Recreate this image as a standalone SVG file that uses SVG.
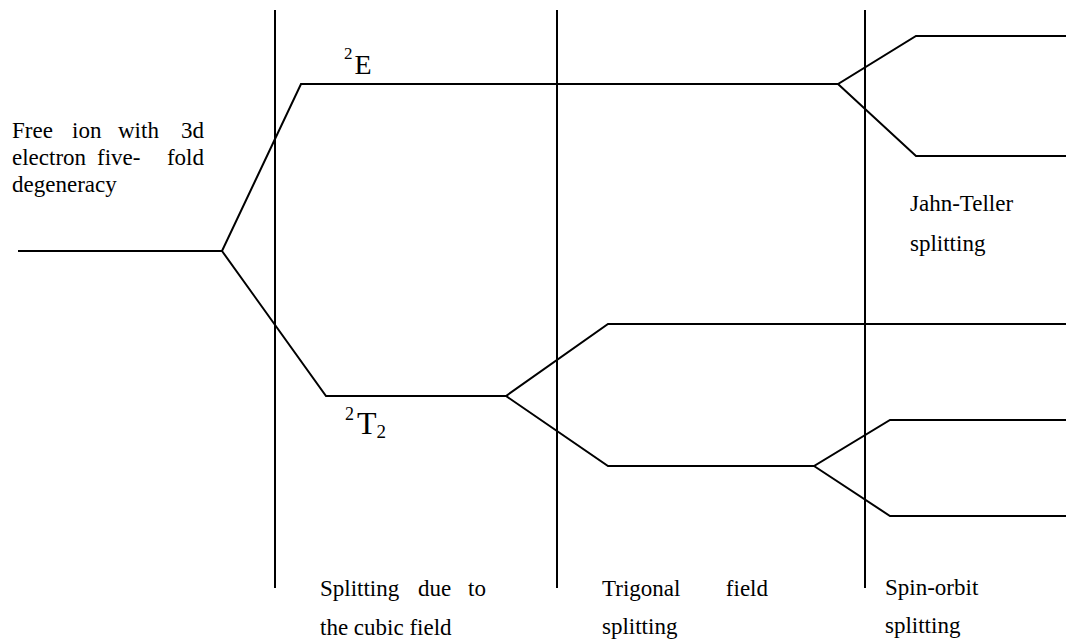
<svg xmlns="http://www.w3.org/2000/svg" width="1066" height="641" viewBox="0 0 1066 641">
<style>
.ln{stroke:#000;stroke-width:2;fill:none;stroke-linejoin:miter}
.t{font-size:23px;fill:#000}
</style>
<rect width="1066" height="641" fill="#fff"/>
<g id="dividers">
<line class="ln" x1="275" y1="10" x2="275" y2="588"/>
<line class="ln" x1="557" y1="10" x2="557" y2="588"/>
<line class="ln" x1="865" y1="10" x2="865" y2="588"/>
</g>
<g id="connectors">
<polyline class="ln" points="18,251 222,251 301,84 838,84 916,36 1066,36"/>
<polyline class="ln" points="838,84 916,156 1066,156"/>
<polyline class="ln" points="222,251 326,396 506,396 608,324 1066,324"/>
<polyline class="ln" points="506,396 608,466 814,466 890,420 1066,420"/>
<polyline class="ln" points="814,466 890,516 1066,516"/>
</g>
<g font-family="'Liberation Serif', 'Times New Roman', Times, serif">
<g id="free-ion">
<text class="t" x="12" y="138">Free</text>
<text class="t" x="72" y="138">ion</text>
<text class="t" x="118" y="138">with</text>
<text class="t" x="204" y="138" text-anchor="end">3d</text>
<text class="t" x="12" y="165">electron</text>
<text class="t" x="97" y="165">five-</text>
<text class="t" x="204" y="165" text-anchor="end">fold</text>
<text class="t" x="12" y="192">degeneracy</text>
</g>
<g id="label-2E">
<text class="t" x="344" y="74"><tspan font-size="17" dy="-15">2</tspan><tspan font-size="28" dx="2" dy="15">E</tspan></text>
</g>
<g id="label-2T2">
<text class="t" x="345" y="434"><tspan font-size="18" dy="-14">2</tspan><tspan font-size="32" dx="3" dy="14">T</tspan><tspan font-size="19" dy="4">2</tspan></text>
</g>
<g id="label-cubic">
<text class="t" x="320" y="596">Splitting</text>
<text class="t" x="418" y="596">due</text>
<text class="t" x="486" y="596" text-anchor="end">to</text>
<text class="t" x="320" y="635">the cubic field</text>
</g>
<g id="label-trigonal">
<text class="t" x="602" y="596">Trigonal</text>
<text class="t" x="768" y="596" text-anchor="end">field</text>
<text class="t" x="602" y="634">splitting</text>
</g>
<g id="label-spinorbit">
<text class="t" x="885" y="595">Spin-orbit</text>
<text class="t" x="885" y="633">splitting</text>
</g>
<g id="label-jahnteller">
<text class="t" x="910" y="211">Jahn-Teller</text>
<text class="t" x="910" y="251">splitting</text>
</g>
</g>
</svg>
